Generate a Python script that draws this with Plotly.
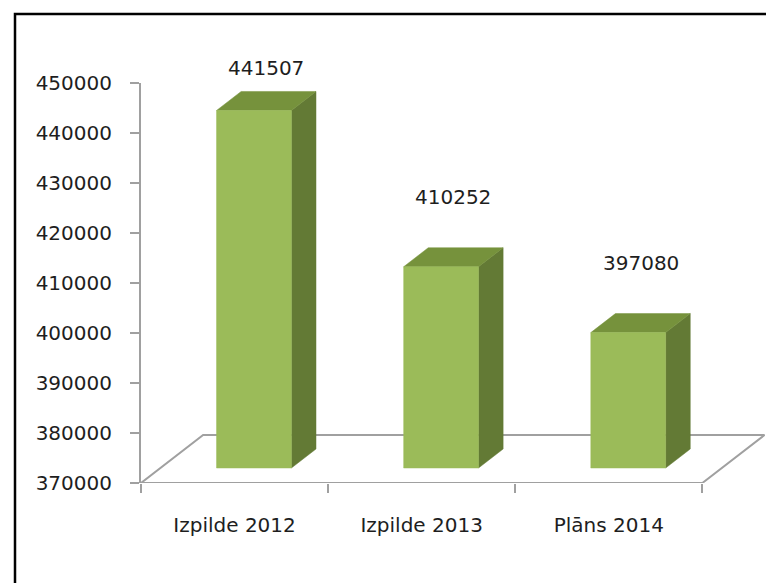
import plotly.graph_objects as go

categories = ["Izpilde 2012", "Izpilde 2013", "Plāns 2014"]
values = [441507, 410252, 397080]
y_ticks = [370000, 380000, 390000, 400000, 410000, 420000, 430000, 440000, 450000]

Y_MIN, Y_MAX = 370000, 450000
DEPTH_X = 0.332      # floor depth in x units
DEPTH_Y = 9600       # floor depth in y units
F_FRONT = 0.3125     # bar front plane (fraction of depth)
F_DEPTH = 0.396      # bar depth (fraction of depth)
BAR_W = 0.40
LABEL_OFF = 17000
LABEL_CAP = 453000

FRONT = "#9BBB59"
TOP = "#76923C"
SIDE = "#637A35"
GRID = "#A0A0A0"
TXT = "#1E1E1E"
FONT = "DejaVu Sans"

fig = go.Figure()

# floor
n = len(categories)
fx = [0, n, n + DEPTH_X, DEPTH_X, 0]
fy = [Y_MIN, Y_MIN, Y_MIN + DEPTH_Y, Y_MIN + DEPTH_Y, Y_MIN]
fig.add_trace(go.Scatter(x=fx, y=fy, mode="lines", line=dict(color=GRID, width=2),
                         hoverinfo="skip", showlegend=False, cliponaxis=False))

bdx = F_DEPTH * DEPTH_X
bdy = F_DEPTH * DEPTH_Y
base = Y_MIN + F_FRONT * DEPTH_Y
for i, v in enumerate(values):
    xl = i + 0.5 - BAR_W / 2 + F_FRONT * DEPTH_X
    xr = xl + BAR_W
    top = base + (v - Y_MIN)
    # side
    fig.add_trace(go.Scatter(x=[xr, xr + bdx, xr + bdx, xr, xr],
                             y=[base, base + bdy, top + bdy, top, base],
                             fill="toself", fillcolor=SIDE, mode="lines",
                             line=dict(color=SIDE, width=0.5), hoverinfo="skip",
                             showlegend=False))
    # top
    fig.add_trace(go.Scatter(x=[xl, xr, xr + bdx, xl + bdx, xl],
                             y=[top, top, top + bdy, top + bdy, top],
                             fill="toself", fillcolor=TOP, mode="lines",
                             line=dict(color=TOP, width=0.5), hoverinfo="skip",
                             showlegend=False))
    # front
    fig.add_trace(go.Scatter(x=[xl, xr, xr, xl, xl],
                             y=[base, base, top, top, base],
                             fill="toself", fillcolor=FRONT, mode="lines",
                             line=dict(color=FRONT, width=0.5), hoverinfo="skip",
                             showlegend=False))
    ly = min(v + LABEL_OFF, LABEL_CAP)
    fig.add_annotation(x=(xl + xr + bdx) / 2, xref="x",
                       y=(ly - Y_MIN) / (Y_MAX - Y_MIN), yref="paper",
                       xanchor="center", yanchor="middle",
                       text=str(v), showarrow=False,
                       font=dict(family=FONT, size=20, color=TXT))

# tick marks at category boundaries
fig.add_trace(go.Scatter(x=[0], y=[Y_MIN], xaxis="x2", mode="markers",
                         marker=dict(opacity=0), hoverinfo="skip", showlegend=False))

fig.update_layout(
    width=766, height=583,
    margin=dict(l=141, r=0, t=83, b=100),
    paper_bgcolor="white", plot_bgcolor="white",
    font=dict(family=FONT, size=20, color=TXT),
    xaxis=dict(range=[0, n + 0.34], tickvals=[i + 0.5 for i in range(n)],
               ticktext=categories, ticks="", showline=False, showgrid=False,
               zeroline=False, ticklabelstandoff=28,
               tickfont=dict(family=FONT, size=20, color=TXT), fixedrange=True),
    xaxis2=dict(range=[0, n + 0.34], overlaying="x", side="bottom", anchor="y",
                tickvals=list(range(n + 1)), ticks="outside", ticklen=9,
                tickwidth=2, tickcolor=GRID, showticklabels=False,
                showline=False, showgrid=False, zeroline=False),
    yaxis=dict(range=[Y_MIN, Y_MAX], tickvals=y_ticks, tickformat="d",
               ticks="outside", ticklen=9, tickwidth=2, tickcolor=GRID,
               showline=True, linecolor=GRID, linewidth=2, showgrid=False,
               zeroline=False, ticklabelstandoff=14,
               tickfont=dict(family=FONT, size=20, color=TXT)),
    shapes=[dict(type="rect", xref="paper", yref="paper",
                 x0=-0.2016, x1=1.2, y0=-0.5, y1=1.1725,
                 line=dict(color="black", width=2.5), fillcolor="rgba(0,0,0,0)")],
    showlegend=False,
)

fig.write_html("out.html", config={"displayModeBar": False},
               post_script="document.body.style.margin='0';document.body.style.overflow='hidden';")
